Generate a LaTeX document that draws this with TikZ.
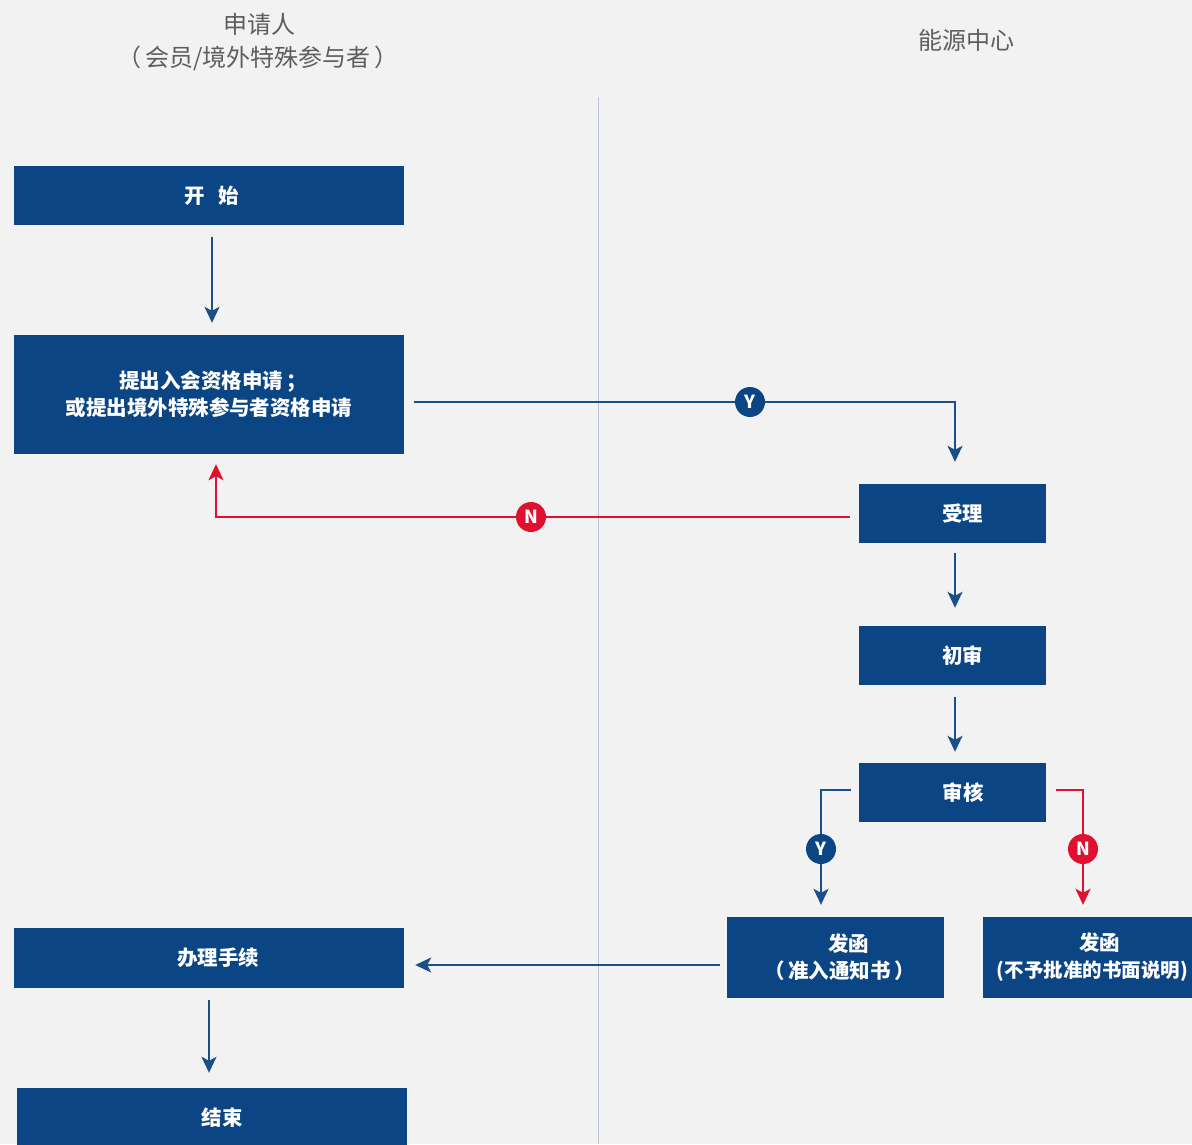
\documentclass[tikz,border=0pt]{standalone}
\usepackage{fontspec}
\setmainfont{Noto Sans CJK SC}
\usetikzlibrary{arrows.meta}
\definecolor{bg}{HTML}{F2F2F2}
\definecolor{boxblue}{HTML}{0B4584}
\definecolor{lineblue}{HTML}{1B4F8A}
\definecolor{nred}{HTML}{E0102F}
\definecolor{hdr}{HTML}{5E5E5E}
\definecolor{divider}{HTML}{B9C5D2}
\begin{document}
\begin{tikzpicture}[x=1pt,y=-1pt,
  box/.style={fill=boxblue, text=white, font=\fontsize{20.5}{27}\selectfont\bfseries, align=center, inner sep=0pt},
  wide/.style={box, minimum width=390pt},
  narrow/.style={box, minimum width=187pt, minimum height=59pt},
  hdrtext/.style={text=hdr, font=\fontsize{24}{28}\selectfont, inner sep=0pt},
  bluearrow/.style={draw=lineblue, line width=2pt, -{Stealth[length=16pt,width=15pt,inset=4pt]}},
  redarrow/.style={draw=nred, line width=2pt, -{Stealth[length=16pt,width=15pt,inset=4pt]}},
  badge/.style={circle, minimum size=30pt, inner sep=0pt, text=white, font=\fontsize{18}{18}\selectfont\bfseries}
]
\fill[bg] (0,0) rectangle (1192,1144);
\useasboundingbox (0,0) rectangle (1192,1144);

% headers
\node[hdrtext] (h1) at (259,24) {申请人};
\node[hdrtext] (h2) at (258,58) {（\,会员/境外特殊参与者\,）};
\node[hdrtext] (h3) at (966,40) {能源中心};

% divider
\coordinate (dtop) at (598,97);
\coordinate (dbot) at (598,1144);
\draw[divider, line width=1pt] (dtop) -- (dbot);

% boxes
\node[wide, minimum height=59pt] (start) at (209,195.5) {\hspace*{6pt}开\hspace{14pt}始};
\node[wide, minimum height=119pt] (apply) at (209,394.5) {\hspace*{8pt}提出入会资格申请\,；\\或提出境外特殊参与者资格申请};
\node[narrow] (shouli) at (952.5,513.5) {\hspace*{20pt}受理};
\node[narrow] (chushen) at (952.5,655.5) {\hspace*{20pt}初审};
\node[narrow] (shenhe) at (952.5,792.5) {\hspace*{21pt}审核};
\node[box, minimum width=217pt, minimum height=81pt] (fa1) at (835.5,957.5) {\hspace*{26pt}发函\\\hspace*{8pt}（\,准入通知书\,）};
\node[box, minimum width=217pt, minimum height=81pt] (fa2) at (1091.5,957.5) {\hspace*{16pt}发函\\{\fontsize{19.5}{27}\selectfont\hspace*{2pt}(不予批准的书面说明)}};
\node[wide, minimum height=60pt] (banli) at (209,958) {\hspace*{18pt}办理手续};
\node[wide, minimum height=59pt] (finish) at (212,1117.5) {\hspace*{20pt}结束};

% connectors
\draw[bluearrow, shorten <=12pt, shorten >=12pt] ([xshift=3pt]start.south) -- ([xshift=3pt]apply.north);
\draw[bluearrow] ([xshift=10pt,yshift=-7.5pt]apply.east) -| ([xshift=2.5pt,yshift=22pt]shouli.north);
\draw[redarrow] ([xshift=-9pt,yshift=-3.5pt]shouli.west) -| ([xshift=7pt,yshift=-10pt]apply.south);
\draw[bluearrow, shorten <=10pt, shorten >=18pt] ([xshift=2.5pt]shouli.south) -- ([xshift=2.5pt]chushen.north);
\draw[bluearrow, shorten <=12pt, shorten >=11pt] ([xshift=2.5pt]chushen.south) -- ([xshift=2.5pt]shenhe.north);
\draw[bluearrow] ([xshift=-8pt,yshift=2.5pt]shenhe.west) -| ([xshift=-14.5pt,yshift=12pt]fa1.north);
\draw[redarrow] ([xshift=10pt,yshift=2.5pt]shenhe.east) -| ([xshift=-8.5pt,yshift=12pt]fa2.north);
\draw[bluearrow] ([xshift=-7pt,yshift=-7.5pt]fa1.west) -- ([xshift=11pt,yshift=-7pt]banli.east);
\draw[bluearrow, shorten <=12pt, shorten >=15pt] (banli.south) -- ([xshift=-3pt]finish.north);

% badges
\node[badge, fill=boxblue] (y1) at (750,402) {Y};
\node[badge, fill=nred] (n1) at (531,517) {N};
\node[badge, fill=boxblue] (y2) at (821,849) {Y};
\node[badge, fill=nred] (n2) at (1083,849) {N};
\end{tikzpicture}
\end{document}
